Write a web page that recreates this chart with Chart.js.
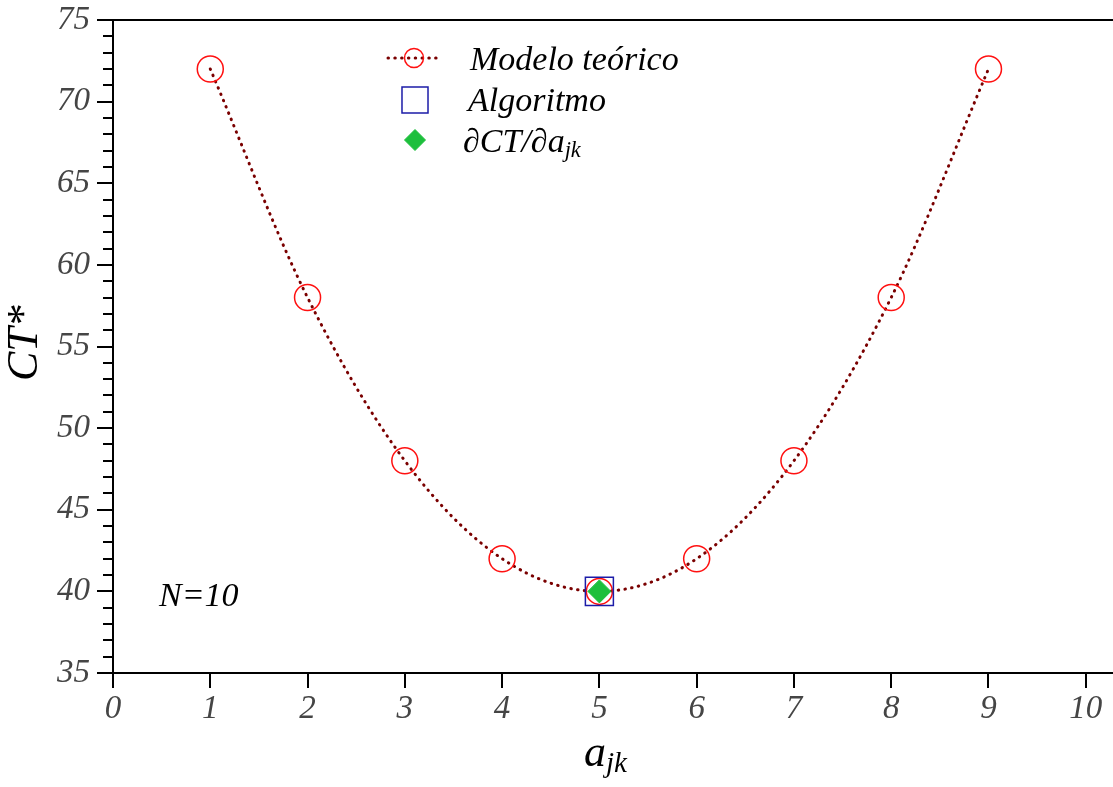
<!DOCTYPE html>
<html><head><meta charset="utf-8">
<script src="https://cdn.jsdelivr.net/npm/chart.js@4.4.1/dist/chart.umd.min.js"></script>
<style>
html,body{margin:0;padding:0;background:#fff;}
#wrap{position:relative;width:1113px;height:787px;overflow:hidden;}
canvas{position:absolute;left:0;top:0;}
.t{position:absolute;font-family:"Liberation Serif","DejaVu Serif",serif;font-style:italic;line-height:1;white-space:nowrap;color:#000;}
.sub{font-size:0.66em;position:relative;top:0.22em;}
</style></head><body>
<div id="wrap">
<canvas id="c" width="1113" height="787"></canvas>
<div class="t" style="left:470px;top:42px;font-size:34px;">Modelo teórico</div>
<div class="t" style="left:468px;top:83px;font-size:34px;">Algoritmo</div>
<div class="t" style="left:463px;top:124px;font-size:34px;">∂CT/∂a<span class="sub">jk</span></div>
<div class="t" style="left:159px;top:578px;font-size:34px;">N=10</div>
<div class="t" style="left:584px;top:730px;font-size:44px;">a<span class="sub">jk</span></div>
<div class="t" style="left:0;top:0;font-size:44px;transform-origin:0 0;transform:translate(1px,381px) rotate(-90deg);">CT*</div>
</div>
<script>
// ---- data ----
const aValues = [1, 2, 3, 4, 5, 6, 7, 8, 9];
const ctModel = [72, 58, 48, 42, 40, 42, 48, 58, 72];
const algoX = [5];
const algoY = [40];
const derivX = [5];
const derivY = [40];
const xTickValues = [0, 1, 2, 3, 4, 5, 6, 7, 8, 9, 10];
const yTickValues = [35, 40, 45, 50, 55, 60, 65, 70, 75];
const seriesNames = ['Modelo teórico', 'Algoritmo', '∂CT/∂ajk'];

const toPts = (xs, ys) => xs.map((x, i) => ({ x: x, y: ys[i] }));

const tickFont = { family: '"Liberation Serif","DejaVu Serif",serif', style: 'italic', size: 33 };

const frame = {
  id: 'frame',
  afterDatasetsDraw(chart) {
    const ctx = chart.ctx, a = chart.chartArea;
    const xs = chart.scales.x, ys = chart.scales.y;
    ctx.save();
    ctx.strokeStyle = '#000';
    ctx.lineWidth = 2;
    // top border
    ctx.beginPath();
    ctx.moveTo(a.left, a.top); ctx.lineTo(chart.width, a.top);
    ctx.stroke();
    // y ticks
    ctx.beginPath();
    for (let v = ys.min; v <= ys.max + 1e-9; v += 1) {
      const py = Math.round(ys.getPixelForValue(v));
      const major = (v % 5 === 0);
      ctx.moveTo(a.left - (major ? 16 : 10), py);
      ctx.lineTo(a.left, py);
    }
    // x ticks
    xTickValues.forEach(v => {
      const px = Math.round(xs.getPixelForValue(v));
      ctx.moveTo(px, a.bottom);
      ctx.lineTo(px, a.bottom + 15);
    });
    ctx.stroke();
    // legend markers
    const ds = chart.data.datasets;
    ctx.save();
    ctx.strokeStyle = ds[0].borderColor;
    ctx.lineWidth = ds[0].borderWidth;
    ctx.lineCap = 'round';
    ctx.setLineDash(ds[0].borderDash);
    ctx.beginPath();
    ctx.moveTo(388, 58); ctx.lineTo(441, 58);
    ctx.stroke();
    ctx.restore();
    ctx.setLineDash([]);
    ctx.fillStyle = 'rgba(0,0,0,0)';
    ctx.strokeStyle = ds[0].pointBorderColor;
    ctx.lineWidth = 1.5;
    Chart.helpers.drawPoint(ctx, { pointStyle: 'circle', radius: 9.5, rotation: 0, borderWidth: 1.5 }, 414, 58);
    ctx.strokeStyle = ds[1].pointBorderColor;
    ctx.lineWidth = 1.5;
    Chart.helpers.drawPoint(ctx, { pointStyle: 'rect', radius: 18.4, rotation: 0, borderWidth: 1.5 }, 415, 100);
    ctx.fillStyle = ds[2].pointBackgroundColor;
    ctx.strokeStyle = ds[2].pointBorderColor;
    ctx.lineWidth = 1;
    Chart.helpers.drawPoint(ctx, { pointStyle: 'rectRot', radius: 10.5, rotation: 0, borderWidth: 1 }, 415, 140);
    ctx.restore();
  }
};

new Chart(document.getElementById('c'), {
  type: 'scatter',
  data: {
    datasets: [
      {
        label: seriesNames[0],
        data: toPts(aValues, ctModel),
        showLine: true,
        cubicInterpolationMode: 'monotone',
        borderColor: '#7a0000',
        borderWidth: 3,
        borderDash: [0.5, 6.3],
        borderCapStyle: 'round',
        pointStyle: 'circle',
        pointRadius: 13,
        pointHoverRadius: 13,
        pointBorderColor: '#ff1010',
        pointBackgroundColor: 'rgba(0,0,0,0)',
        pointBorderWidth: 1.5,
        order: 2
      },
      {
        label: seriesNames[1],
        data: toPts(algoX, algoY),
        showLine: false,
        pointStyle: 'rect',
        pointRadius: 19.8,
        pointHoverRadius: 19.8,
        pointBorderColor: '#1c1ca8',
        pointBackgroundColor: 'rgba(0,0,0,0)',
        pointBorderWidth: 1.5,
        order: 1
      },
      {
        label: seriesNames[2],
        data: toPts(derivX, derivY),
        showLine: false,
        pointStyle: 'rectRot',
        pointRadius: 11.5,
        pointHoverRadius: 11.5,
        pointBorderColor: '#1dbf3c',
        pointBackgroundColor: '#1dbf3c',
        pointBorderWidth: 1,
        order: 0
      }
    ]
  },
  options: {
    responsive: false,
    animation: false,
    devicePixelRatio: 1,
    events: [],
    layout: { autoPadding: false, padding: { top: 20, right: 0, left: 0, bottom: 0 } },
    plugins: { legend: { display: false }, tooltip: { enabled: false } },
    scales: {
      x: {
        type: 'linear',
        min: 0,
        max: 10.28,
        afterFit: s => { s.height = 114; s.paddingLeft = 0; s.paddingRight = 0; },
        afterBuildTicks: s => { s.ticks = xTickValues.map(v => ({ value: v })); },
        grid: { display: false, drawTicks: false },
        border: { display: true, color: '#000', width: 2 },
        ticks: { font: tickFont, color: '#454545', padding: 17, maxRotation: 0, autoSkip: false, includeBounds: false }
      },
      y: {
        type: 'linear',
        min: 35,
        max: 75,
        afterFit: s => { s.width = 113; s.paddingTop = 0; s.paddingBottom = 0; },
        afterBuildTicks: s => { s.ticks = yTickValues.map(v => ({ value: v })); },
        grid: { display: false, drawTicks: false },
        border: { display: true, color: '#000', width: 2 },
        ticks: { font: tickFont, color: '#454545', padding: 23, autoSkip: false, includeBounds: false }
      }
    }
  },
  plugins: [frame]
});
</script>
</body></html>
